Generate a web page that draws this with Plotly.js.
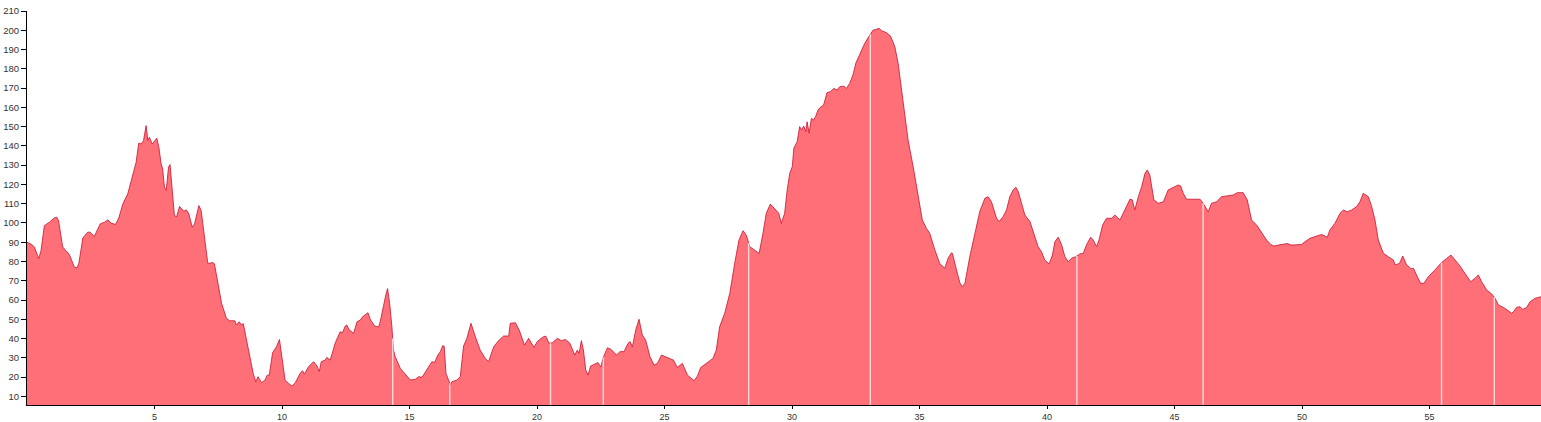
<!DOCTYPE html>
<html>
<head>
<meta charset="utf-8">
<script src="https://cdn.plot.ly/plotly-3.0.1.min.js"></script>
<style>
html,body{margin:0;padding:0;background:#fff;}
#chart{width:1541px;height:422px;}
</style>
</head>
<body>
<div id="chart"></div>
<script>
// distance (km) along the route
const distanceKm = [
0,0.16,0.29,0.46,0.55,0.68,0.88,1.07,1.17,1.24,1.40,1.53,1.66,1.86,1.95,2.03,2.19,2.38,2.47,2.64,
2.87,3.04,3.17,3.30,3.47,3.60,3.76,3.95,4.15,4.28,4.38,4.48,4.57,4.67,4.74,4.80,4.91,5.00,5.09,5.17,
5.26,5.32,5.39,5.46,5.55,5.61,5.69,5.78,5.87,5.98,6.07,6.15,6.24,6.34,6.48,6.57,6.74,6.83,7.09,7.29,
7.35,7.55,7.63,7.82,7.95,8.15,8.21,8.32,8.41,8.48,8.61,8.74,8.87,8.97,9.06,9.20,9.33,9.42,9.50,9.63,
9.78,9.90,9.99,10.12,10.26,10.39,10.52,10.71,10.80,10.88,11.04,11.24,11.37,11.46,11.54,11.69,11.76,11.89,12.09,12.28,
12.37,12.48,12.54,12.64,12.81,12.94,13.07,13.16,13.37,13.46,13.63,13.79,13.85,13.98,14.07,14.14,14.22,14.31,14.37,14.44,
14.64,14.83,15.03,15.22,15.36,15.49,15.68,15.88,15.98,16.11,16.21,16.30,16.36,16.43,16.53,16.60,16.66,16.86,16.99,17.12,
17.25,17.41,17.58,17.77,17.97,18.10,18.30,18.49,18.69,18.89,18.95,19.15,19.30,19.51,19.67,19.83,19.88,20.01,20.21,20.34,
20.47,20.60,20.80,20.95,21.12,21.29,21.48,21.58,21.65,21.74,21.82,21.91,22.00,22.10,22.30,22.39,22.50,22.60,22.76,22.91,
23.12,23.25,23.41,23.57,23.65,23.74,23.87,24.00,24.13,24.26,24.43,24.59,24.72,24.88,25.11,25.35,25.50,25.70,25.90,26.05,
26.16,26.29,26.42,26.55,26.74,26.90,27.03,27.16,27.36,27.56,27.75,27.92,28.08,28.21,28.34,28.54,28.71,28.86,28.99,29.15,
29.32,29.48,29.58,29.71,29.81,29.91,30.01,30.07,30.20,30.30,30.37,30.46,30.54,30.59,30.67,30.76,30.85,30.92,31.02,31.11,
31.24,31.37,31.50,31.64,31.77,31.87,32.03,32.13,32.26,32.39,32.50,32.66,32.85,33.05,33.18,33.28,33.41,33.51,33.70,33.86,
34.03,34.16,34.29,34.42,34.55,34.75,34.94,35.11,35.27,35.40,35.60,35.79,35.99,36.12,36.25,36.29,36.45,36.58,36.67,36.78,
36.97,37.17,37.36,37.56,37.69,37.82,38.02,38.12,38.28,38.41,38.54,38.67,38.78,38.87,39.00,39.13,39.33,39.52,39.65,39.78,
39.91,40.08,40.21,40.31,40.44,40.57,40.70,40.83,40.96,41.13,41.29,41.42,41.55,41.71,41.81,41.94,42.04,42.18,42.33,42.53,
42.66,42.86,43.05,43.25,43.34,43.44,43.58,43.71,43.84,43.93,44.03,44.19,44.36,44.56,44.75,44.95,45.14,45.24,45.34,45.47,
45.73,46.00,46.12,46.23,46.32,46.45,46.65,46.84,47.11,47.30,47.46,47.69,47.85,48.02,48.22,48.41,48.61,48.77,48.90,49.07,
49.26,49.42,49.59,49.79,49.98,50.11,50.31,50.57,50.77,50.90,50.99,51.09,51.29,51.49,51.62,51.77,51.94,52.14,52.27,52.40,
52.51,52.60,52.73,52.86,52.99,53.19,53.38,53.58,53.65,53.82,53.95,54.10,54.26,54.37,54.52,54.65,54.78,54.95,55.21,55.47,
55.67,55.84,56.00,56.19,56.43,56.61,56.78,56.91,57.04,57.24,57.44,57.57,57.70,57.89,58.09,58.22,58.29,58.42,58.55,58.65,
58.81,58.94,59.14,59.37
];
// elevation (m)
const elevation = [
90,89,87.5,81.5,85.7,98.6,100.4,102.6,103,101,87.5,85.3,83.6,77,76.7,78.8,92.2,95.2,95.2,93,
99.5,100.4,101.6,99.9,99.2,102.6,109.9,115,124.6,131.5,141.4,141,142.8,150.5,142.8,144.5,141,142.8,144,139.3,
130.7,128,118.5,117,129,130.3,118.5,103.8,103.3,108.5,107.3,106,106.8,105,97.8,99.5,109,106.4,79,79.4,
78.8,65,58.3,50.5,49.2,49.2,47,48.7,47,47.8,39.2,30.6,21.9,17.6,20.2,17.1,18.4,21,21,32.6,
35.7,39.5,30.6,18.5,16.7,15.3,17.1,21.9,23.3,21.6,25.4,28,25.8,22.8,28,28.8,30.2,28.8,37.8,43.5,
43,46.5,47,44.4,42.7,48.7,49.6,51.3,53.4,50,46.5,46,48.7,57.4,62.6,65.9,58.3,46,34,30.6,
24.5,21.6,18.5,18.8,20.2,19.9,24,28,27.5,31.4,33.2,36.3,36,21.9,18.5,15.9,17.6,18.5,20.2,36.1,
40.1,47.9,41,34,29.7,28,35.7,38.9,41.3,41.3,47.9,48.2,44.4,36.6,40.1,36.6,35.4,38.4,40.6,41.3,
37.5,37.8,40.1,38.9,39.5,37.5,31.4,34,32.3,38.9,34,23.7,21,25.7,27.1,27.5,25.2,30.2,35.2,34.3,
31.4,33.2,33.2,37.5,38.4,35.7,44.4,50,41.8,39.2,30.6,26.2,27.1,31.4,30.2,28.8,25,27.1,21,19.3,
18.1,20.5,25,26.2,28,29.7,34,46.1,53.1,63.5,79,91.1,96,93.6,87.7,85.9,84.2,94.6,105,109.8,
107.6,105,99.8,105,117.1,125.7,129.2,138.7,142.2,150,148.2,150.3,147.4,152.5,146.6,154.3,153.4,155.1,158.6,160,
161.2,167.6,168.1,169.8,169,170.7,171,169.8,172.4,176.8,182.9,188,193.2,197.5,200.1,200.4,201,199.8,198.8,197,
191.5,182.9,169,155.1,143.1,129.2,113.6,101.5,97.2,94.6,86,79,76.5,81.7,84.5,84.2,75.6,69,66.9,68.7,
82.5,94.6,105.8,112.8,113.6,111,102.4,100.7,103.3,106.7,113.6,117.1,118.5,116.3,110.2,104.1,100.7,92.9,87.7,85.1,
80.8,78.7,83.3,90.3,92.6,88.7,82.5,79.9,81.7,82.5,83.9,84.2,88.7,92.6,91.2,87.7,91.2,98.9,102.4,102.4,
104.1,101.5,106.7,112.3,112,106.7,113.6,118.8,125.7,127.5,124.9,112,110.2,111,117.1,118.5,119.7,119.2,115.4,112.3,
112.3,112.3,110.2,108.1,105.8,110.2,111,113.6,114,114.5,115.7,115.7,112,101.5,98.9,94.9,91.1,88.8,88,88.5,
88.8,89.3,88.5,88.5,88.8,90.2,92,93.2,94,93.2,92.6,96.3,99.8,105,106.7,105.8,106.7,108.5,111,115.4,
114.5,113.6,108.5,101.5,91.1,84.2,82.5,80.8,78.2,79,82.8,78.2,76.4,76.4,72.1,68.7,68.7,72.1,75.6,79.4,
81.6,83.3,80.8,77.7,73,69.5,71.2,73,69.5,65.2,63.1,60.9,57.4,56.2,54.4,53.1,54,56.2,56.5,55.1,
56.2,59.1,60.9,61.7
];
// segment boundaries (km) shown as light vertical lines
const segmentBreaksKm = [14.34,16.58,20.53,22.60,28.30,33.07,41.17,46.12,55.47,57.54];
const yTicks = [10,20,30,40,50,60,70,80,90,100,110,120,130,140,150,160,170,180,190,200,210];
const xTicks = [5,10,15,20,25,30,35,40,45,50,55];

const yMin = 5.5, yMax = 210;

function interp(x){
  for(let i=1;i<distanceKm.length;i++){
    if(distanceKm[i]>=x){
      const x0=distanceKm[i-1],x1=distanceKm[i];
      const t=(x-x0)/(x1-x0);
      return elevation[i-1]+t*(elevation[i]-elevation[i-1]);
    }
  }
  return elevation[elevation.length-1];
}

const traces = [{
  type:'scatter', mode:'lines', x:distanceKm, y:elevation,
  fill:'tozeroy', fillcolor:'#ff6f78',
  line:{color:'#c4132f', width:0.8},
  hoverinfo:'x+y', showlegend:false
}];
segmentBreaksKm.forEach(b=>{
  traces.push({
    type:'scatter', mode:'lines', x:[b,b], y:[yMin, interp(b)],
    line:{color:'rgba(255,235,238,0.85)', width:1.4},
    hoverinfo:'skip', showlegend:false
  });
});

const layout = {
  width:1541, height:422,
  margin:{l:27, r:0, t:11, b:17, pad:0},
  paper_bgcolor:'#ffffff', plot_bgcolor:'#ffffff',
  font:{family:'"Liberation Sans", Arial, sans-serif', size:10, color:'#333'},
  showlegend:false,
  xaxis:{
    range:[0,59.37], tickmode:'array', tickvals:xTicks, ticktext:xTicks.map(String),
    showgrid:false, zeroline:false, showline:true, linecolor:'#000', linewidth:1,
    ticks:'outside', ticklen:3, tickcolor:'#000', tickwidth:1,
    tickfont:{size:9, color:'#333'}, fixedrange:true
  },
  yaxis:{
    range:[yMin,yMax], tickmode:'array', tickvals:yTicks, ticktext:yTicks.map(String),
    showgrid:false, zeroline:false, showline:true, linecolor:'#000', linewidth:1,
    ticks:'outside', ticklen:5, tickcolor:'#000', tickwidth:1,
    tickfont:{size:9.5, color:'#333'}, fixedrange:true
  }
};

Plotly.newPlot('chart', traces, layout, {displayModeBar:false, staticPlot:true});
</script>
</body>
</html>
